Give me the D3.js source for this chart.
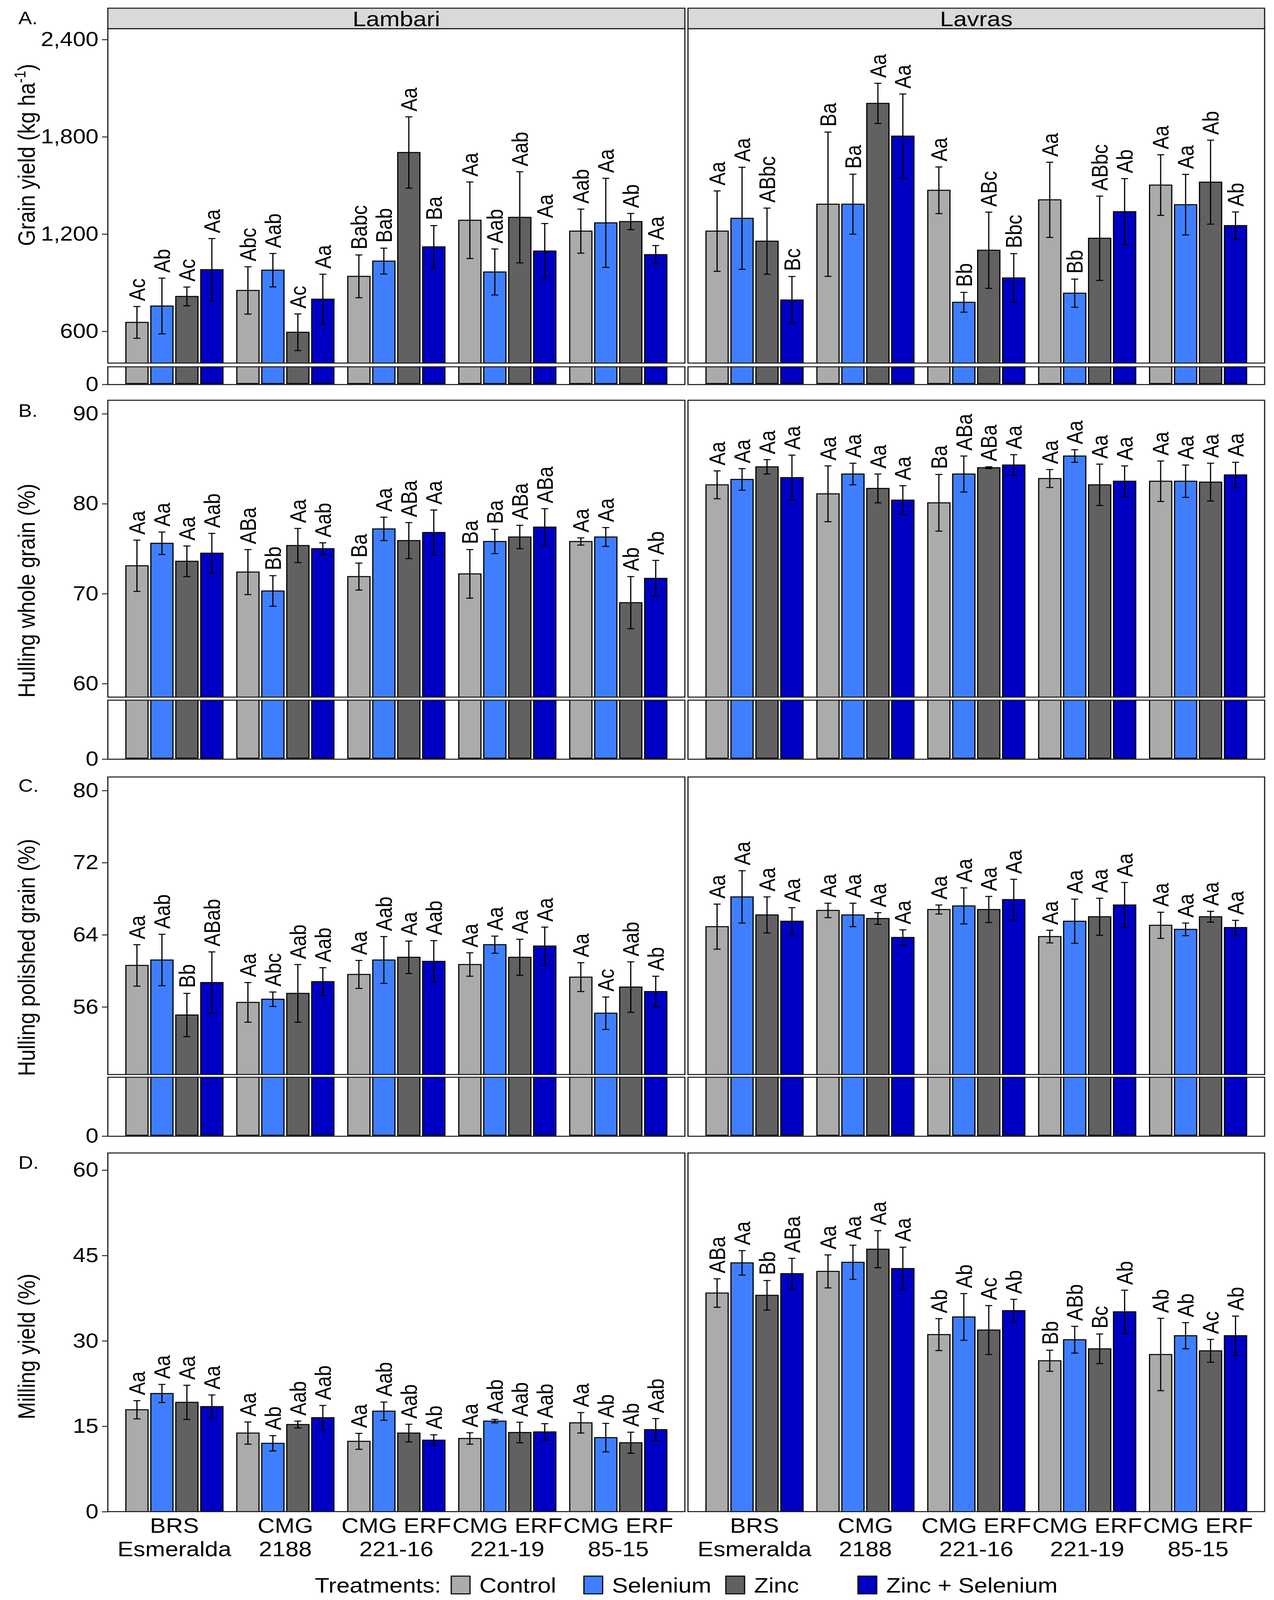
<!DOCTYPE html>
<html>
<head>
<meta charset="utf-8">
<script src="https://cdn.jsdelivr.net/npm/d3@7"></script>
<style>
  html, body { margin: 0; padding: 0; background: #fff; overflow: hidden; }
  text { font-family: "Liberation Sans", Arial, sans-serif; fill: #000; }
</style>
</head>
<body>
<div id="chart"></div>
<script>
// categories
const sites = ["Lambari", "Lavras"];
const genotypes = ["BRS Esmeralda", "CMG 2188", "CMG ERF 221-16", "CMG ERF 221-19", "CMG ERF 85-15"];
const genotypeLines = [["BRS", "Esmeralda"], ["CMG", "2188"], ["CMG ERF", "221-16"], ["CMG ERF", "221-19"], ["CMG ERF", "85-15"]];
const treatments = ["Control", "Selenium", "Zinc", "Zinc + Selenium"];
const treatColors = ["#ABABAB", "#3F7FFF", "#616161", "#0000C4"];

// A. grain yield (kg/ha), rows = genotypes, cols = treatments
const yieldLambariMean = [[655, 756, 815, 980], [852, 977, 594, 798], [939, 1033, 1703, 1121], [1285, 966, 1303, 1095], [1218, 1269, 1277, 1073]];
const yieldLambariErr = [[98, 172, 58, 192], [146, 103, 113, 154], [132, 80, 220, 131], [236, 142, 281, 170], [136, 275, 50, 56]];
const yieldLambariLetters = [["Ac", "Ab", "Ac", "Aa"], ["Abc", "Aab", "Ac", "Aa"], ["Babc", "Bab", "Aa", "Ba"], ["Aa", "Aab", "Aab", "Aa"], ["Aab", "Aa", "Ab", "Aa"]];
const yieldLavrasMean = [[1218, 1297, 1156, 793], [1384, 1384, 2006, 1804], [1470, 779, 1100, 929], [1411, 835, 1174, 1338], [1502, 1381, 1520, 1252]];
const yieldLavrasErr = [[248, 315, 204, 145], [445, 185, 124, 260], [144, 61, 235, 150], [232, 87, 260, 204], [187, 187, 259, 84]];
const yieldLavrasLetters = [["Aa", "Aa", "ABbc", "Bc"], ["Ba", "Ba", "Aa", "Aa"], ["Aa", "Bb", "ABc", "Bbc"], ["Aa", "Bb", "ABbc", "Ab"], ["Aa", "Aa", "Ab", "Ab"]];

// B. hulling whole grain (%)
const wholeLambariMean = [[73.1, 75.6, 73.6, 74.5], [72.4, 70.3, 75.35, 75.0], [71.9, 77.2, 75.9, 76.8], [72.2, 75.8, 76.3, 77.4], [75.8, 76.3, 69.0, 71.7]];
const wholeLambariErr = [[2.85, 1.25, 1.7, 2.2], [2.5, 1.7, 1.9, 0.65], [1.5, 1.3, 2.0, 2.5], [2.7, 1.35, 1.3, 2.05], [0.4, 1.05, 2.9, 2.0]];
const wholeLambariLetters = [["Aa", "Aa", "Aa", "Aab"], ["ABa", "Bb", "Aa", "Aab"], ["Ba", "Aa", "ABa", "Aa"], ["Ba", "Ba", "ABa", "ABa"], ["Aa", "Aa", "Ab", "Ab"]];
const wholeLavrasMean = [[82.1, 82.7, 84.1, 82.9], [81.1, 83.3, 81.7, 80.4], [80.1, 83.3, 84.0, 84.3], [82.8, 85.3, 82.1, 82.5], [82.5, 82.5, 82.4, 83.2]];
const wholeLavrasErr = [[1.55, 1.2, 0.8, 2.5], [3.1, 1.2, 1.6, 1.6], [3.15, 2.0, 0.1, 1.15], [1.0, 0.7, 2.3, 1.7], [2.25, 1.8, 2.1, 1.4]];
const wholeLavrasLetters = [["Aa", "Aa", "Aa", "Aa"], ["Aa", "Aa", "Aa", "Aa"], ["Ba", "ABa", "ABa", "Aa"], ["Aa", "Aa", "Aa", "Aa"], ["Aa", "Aa", "Aa", "Aa"]];

// C. hulling polished grain (%)
const polLambariMean = [[60.6, 61.2, 55.1, 58.7], [56.5, 56.85, 57.5, 58.8], [59.6, 61.2, 61.5, 61.05], [60.7, 62.9, 61.5, 62.75], [59.3, 55.3, 58.2, 57.7]];
const polLambariErr = [[2.3, 2.85, 2.4, 3.4], [2.2, 0.8, 3.2, 1.55], [1.55, 2.6, 1.8, 2.3], [1.3, 0.95, 2.0, 2.1], [1.6, 1.8, 2.8, 1.7]];
const polLambariLetters = [["Aa", "Aab", "Bb", "ABab"], ["Aa", "Abc", "Aab", "Aab"], ["Aa", "Aab", "Aa", "Aab"], ["Aa", "Aa", "Aa", "Aa"], ["Aa", "Ac", "Aab", "Ab"]];
const polLavrasMean = [[64.9, 68.2, 66.2, 65.5], [66.7, 66.2, 65.8, 63.7], [66.8, 67.2, 66.8, 67.9], [63.8, 65.5, 66.0, 67.3], [65.05, 64.6, 66.0, 64.8]];
const polLavrasErr = [[2.5, 2.9, 2.0, 1.5], [0.8, 1.3, 0.65, 0.85], [0.5, 2.0, 1.45, 2.25], [0.7, 2.45, 2.05, 2.5], [1.45, 0.7, 0.6, 0.8]];
const polLavrasLetters = [["Aa", "Aa", "Aa", "Aa"], ["Aa", "Aa", "Aa", "Aa"], ["Aa", "Aa", "Aa", "Aa"], ["Aa", "Aa", "Aa", "Aa"], ["Aa", "Aa", "Aa", "Aa"]];

// D. milling yield (%)
const millLambariMean = [[17.9, 20.75, 19.2, 18.45], [13.8, 12.0, 15.3, 16.5], [12.35, 17.65, 13.8, 12.55], [12.85, 15.9, 13.9, 14.0], [15.6, 13.0, 12.1, 14.4]];
const millLambariErr = [[1.6, 1.6, 3.0, 2.05], [1.95, 1.35, 0.6, 2.15], [1.4, 1.6, 1.55, 0.95], [1.0, 0.3, 1.8, 1.45], [1.8, 2.5, 1.85, 1.95]];
const millLambariLetters = [["Aa", "Aa", "Aa", "Aa"], ["Aa", "Ab", "Aab", "Aab"], ["Aa", "Aab", "Aab", "Ab"], ["Aa", "Aab", "Aab", "Aab"], ["Aa", "Ab", "Ab", "Aab"]];
const millLavrasMean = [[38.4, 43.7, 38.0, 41.8], [42.2, 43.8, 46.1, 42.7], [31.1, 34.2, 31.9, 35.3], [26.5, 30.2, 28.6, 35.1], [27.6, 30.9, 28.25, 30.9]];
const millLavrasErr = [[2.5, 2.15, 2.6, 2.7], [2.9, 3.0, 3.25, 3.75], [2.8, 4.1, 4.3, 2.0], [1.85, 2.35, 2.6, 3.8], [6.35, 2.3, 2.0, 3.45]];
const millLavrasLetters = [["ABa", "Aa", "Bb", "ABa"], ["Aa", "Aa", "Aa", "Aa"], ["Ab", "Ab", "Ac", "Ab"], ["Bb", "ABb", "Bc", "Ab"], ["Ab", "Ab", "Ac", "Ab"]];

// y ticks
const yieldTicks = [600, 1200, 1800, 2400];
const wholeTicks = [60, 70, 80, 90];
const polTicks = [56, 64, 72, 80];
const millTicks = [0, 15, 30, 45, 60];

const W = 3261, H = 4689;
const letterSize = 57, tickSize = 59, labelSize = 61;
const panelX = [[276, 1753], [1761, 3237]];

// layout of the four rows (upper part, optional lower "broken" part)
const panels = [
  {id: "A", label: "A.", labelY: 71, title: "Grain yield (kg ha", sup: "-1", titleY: 454,
   top: 84, upBottom: 1064, lowTop: 1075, bottom: 1127, domain: [404, 2467], lowMax: 100,
   ticks: yieldTicks, fmt: d3.format(","),
   mean: [yieldLambariMean, yieldLavrasMean], err: [yieldLambariErr, yieldLavrasErr], letters: [yieldLambariLetters, yieldLavrasLetters]},
  {id: "B", label: "B.", labelY: 1221, title: "Hulling whole grain (%)", titleY: 1731,
   top: 1173, upBottom: 2043, lowTop: 2052, bottom: 2225, domain: [58.5, 91.5], lowMax: 10,
   ticks: wholeTicks, fmt: d3.format("d"),
   mean: [wholeLambariMean, wholeLavrasMean], err: [wholeLambariErr, wholeLavrasErr], letters: [wholeLambariLetters, wholeLavrasLetters]},
  {id: "C", label: "C.", labelY: 2321, title: "Hulling polished grain (%)", titleY: 2806,
   top: 2277, upBottom: 3149, lowTop: 3157, bottom: 3330, domain: [48.5, 81.5], lowMax: 10,
   ticks: polTicks, fmt: d3.format("d"),
   mean: [polLambariMean, polLavrasMean], err: [polLambariErr, polLavrasErr], letters: [polLambariLetters, polLavrasLetters]},
  {id: "D", label: "D.", labelY: 3425, title: "Milling yield (%)", titleY: 3946,
   top: 3379, upBottom: 4430, domain: [0, 63],
   ticks: millTicks, fmt: d3.format("d"),
   mean: [millLambariMean, millLavrasMean], err: [millLambariErr, millLavrasErr], letters: [millLambariLetters, millLavrasLetters]}
];

// the visible window can be shorter than asked for, so the drawing is fitted to it
const vw = window.innerWidth || W;
const vh = window.innerHeight || H;

const svg = d3.select("#chart").append("svg")
  .attr("width", vw)
  .attr("height", vh)
  .attr("viewBox", `0 0 ${W} ${H}`)
  .attr("preserveAspectRatio", "none")
  .style("display", "block");

svg.append("rect").attr("width", W).attr("height", H).attr("fill", "#fff");

const defs = svg.append("defs");

// strips on the first row
sites.forEach((s, si) => {
  const [x0, x1] = panelX[si];
  svg.append("rect")
    .attr("x", x0).attr("y", 24)
    .attr("width", x1 - x0).attr("height", 60)
    .attr("fill", "#D9D9D9").attr("stroke", "#1a1a1a").attr("stroke-width", 3);
  svg.append("text")
    .attr("x", (x0 + x1) / 2).attr("y", 54)
    .attr("dy", "0.36em")
    .attr("text-anchor", "middle")
    .attr("font-size", 62)
    .text(s);
});

function drawBars(g, rows, xg, xt, yTop, yBottom) {
  g.selectAll("rect.bar")
    .data(rows)
    .enter()
    .append("rect")
      .attr("class", "bar")
      .attr("x", d => xg(d.g) + xt(d.t))
      .attr("y", d => yTop(d))
      .attr("width", xt.bandwidth())
      .attr("height", d => yBottom - yTop(d))
      .attr("fill", d => treatColors[treatments.indexOf(d.t)])
      .attr("stroke", "#000")
      .attr("stroke-width", 3);
}

function styleAxis(ax) {
  ax.select(".domain").remove();
  ax.selectAll(".tick line").attr("stroke", "#333").attr("stroke-width", 3);
  ax.selectAll(".tick text")
    .attr("font-size", tickSize)
    .attr("font-family", "Liberation Sans, Arial, sans-serif")
    .attr("fill", "#000");
}

panels.forEach(p => {
  sites.forEach((site, si) => {
    const [x0, x1] = panelX[si];
    const xg = d3.scaleBand().domain(genotypes).range([x0, x1])
      .paddingInner(0.1).paddingOuter(0.15);
    const xt = d3.scaleBand().domain(treatments).range([0, xg.bandwidth()])
      .paddingInner(0.111).paddingOuter(0.0555);
    const y = d3.scaleLinear().domain(p.domain).range([p.upBottom, p.top]);

    const rows = genotypes.flatMap((g, gi) => treatments.map((t, ti) => ({
      g: g, t: t,
      m: p.mean[si][gi][ti],
      e: p.err[si][gi][ti],
      l: p.letters[si][gi][ti]
    })));

    // upper part
    const clipId = `clip-${p.id}-${si}`;
    defs.append("clipPath").attr("id", clipId)
      .append("rect").attr("x", x0).attr("y", p.top)
      .attr("width", x1 - x0).attr("height", p.upBottom - p.top);

    const gUp = svg.append("g").attr("clip-path", `url(#${clipId})`);
    drawBars(gUp, rows, xg, xt, d => y(d.m), y(p.domain[0]) + 3);

    // error bars
    const cap = 9;
    const eb = svg.append("g");
    rows.forEach(d => {
      const cx = xg(d.g) + xt(d.t) + xt.bandwidth() / 2;
      eb.append("line")
        .attr("x1", cx).attr("x2", cx)
        .attr("y1", y(d.m - d.e)).attr("y2", y(d.m + d.e))
        .attr("stroke", "#000").attr("stroke-width", 3);
      [d.m - d.e, d.m + d.e].forEach(v => {
        eb.append("line")
          .attr("x1", cx - cap).attr("x2", cx + cap)
          .attr("y1", y(v)).attr("y2", y(v))
          .attr("stroke", "#000").attr("stroke-width", 3);
      });
    });

    // letters above error bars
    svg.append("g").selectAll("text")
      .data(rows)
      .enter()
      .append("text")
        .attr("transform", d => {
          const cx = xg(d.g) + xt(d.t) + xt.bandwidth() / 2;
          return `translate(${cx},${y(d.m + d.e) - 16}) rotate(-90)`;
        })
        .attr("dy", "0.36em")
        .attr("text-anchor", "start")
        .attr("font-size", letterSize)
        .text(d => d.l);

    svg.append("rect")
      .attr("x", x0).attr("y", p.top)
      .attr("width", x1 - x0).attr("height", p.upBottom - p.top)
      .attr("fill", "none").attr("stroke", "#1a1a1a").attr("stroke-width", 3);

    if (si === 0) {
      const ax = svg.append("g")
        .attr("transform", `translate(${x0},0)`)
        .call(d3.axisLeft(y).tickValues(p.ticks).tickFormat(p.fmt).tickSize(15).tickPadding(9));
      styleAxis(ax);
    }

    // lower part of the broken axis
    if (p.lowTop) {
      const yL = d3.scaleLinear().domain([0, p.lowMax]).range([p.bottom - 3, p.lowTop]).clamp(true);
      const clipL = `clipL-${p.id}-${si}`;
      defs.append("clipPath").attr("id", clipL)
        .append("rect").attr("x", x0).attr("y", p.lowTop)
        .attr("width", x1 - x0).attr("height", p.bottom - p.lowTop);
      const gLow = svg.append("g").attr("clip-path", `url(#${clipL})`);
      drawBars(gLow, rows, xg, xt, d => yL(d.m) - 3, yL(0));

      svg.append("rect")
        .attr("x", x0).attr("y", p.lowTop)
        .attr("width", x1 - x0).attr("height", p.bottom - p.lowTop)
        .attr("fill", "none").attr("stroke", "#1a1a1a").attr("stroke-width", 3);

      if (si === 0) {
        const axL = svg.append("g")
          .attr("transform", `translate(${x0},0)`)
          .call(d3.axisLeft(yL).tickValues([0]).tickFormat(d3.format("d")).tickSize(15).tickPadding(9));
        styleAxis(axL);
        axL.select(".tick").attr("transform", `translate(0,${p.bottom})`);
      }
    }

    // x labels on the last row
    if (p.id === "D") {
      const xl = svg.append("g");
      genotypes.forEach((g, gi) => {
        const t = xl.append("text")
          .attr("x", xg(g) + xg.bandwidth() / 2)
          .attr("y", 4492)
          .attr("text-anchor", "middle")
          .attr("font-size", labelSize);
        genotypeLines[gi].forEach((line, li) => {
          t.append("tspan")
            .attr("x", xg(g) + xg.bandwidth() / 2)
            .attr("dy", li === 0 ? 0 : 69)
            .text(line);
        });
      });
    }
  });

  // panel tag and y title
  svg.append("text")
    .attr("x", 47).attr("y", p.labelY)
    .attr("font-size", 52)
    .text(p.label);

  const tt = svg.append("text")
    .attr("transform", `translate(89,${p.titleY}) rotate(-90)`)
    .attr("text-anchor", "middle")
    .attr("font-size", labelSize)
    .text(p.title);
  if (p.sup) {
    tt.append("tspan").attr("font-size", 40).attr("dy", -24).text(p.sup);
    tt.append("tspan").attr("dy", 24).text(")");
  }
});

// legend
const legY = 4645;
const legGaps = [71, 37, 151, 0];   // space after each label, as in the source figure
const leg = svg.append("g");
const legTitle = leg.append("text")
  .attr("x", 0).attr("y", legY).attr("dy", "0.36em")
  .attr("font-size", labelSize)
  .text("Treatments:");
let cursor = legTitle.node().getComputedTextLength() + 26;
treatments.forEach((t, i) => {
  leg.append("rect")
    .attr("x", cursor).attr("y", legY - 26)
    .attr("width", 48).attr("height", 52)
    .attr("fill", treatColors[i]).attr("stroke", "#000").attr("stroke-width", 3);
  const lt = leg.append("text")
    .attr("x", cursor + 48 + 24).attr("y", legY).attr("dy", "0.36em")
    .attr("font-size", labelSize)
    .text(t);
  cursor += 48 + 24 + lt.node().getComputedTextLength() + legGaps[i];
});
const legWidth = cursor;
leg.attr("transform", `translate(${(panelX[0][0] + panelX[1][1]) / 2 - legWidth / 2},0)`);
</script>
</body>
</html>
